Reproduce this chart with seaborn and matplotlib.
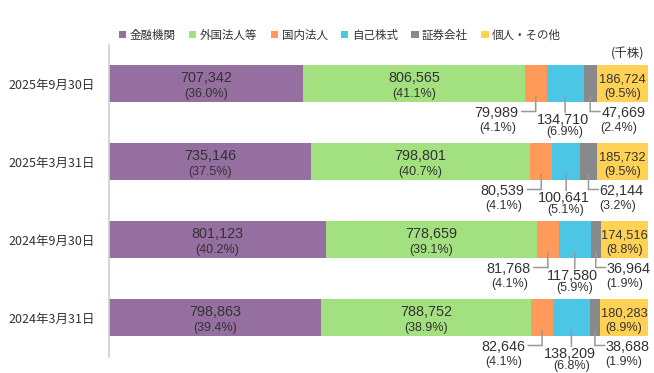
import pandas as pd
import matplotlib
matplotlib.use('Agg')
import matplotlib.pyplot as plt
from matplotlib.patches import Patch
from matplotlib.transforms import offset_copy
import seaborn as sns

# data (thousand shares)
dates = ['2025年9月30日', '2025年3月31日', '2024年9月30日', '2024年3月31日']
names = ['金融機関', '外国法人等', '国内法人', '自己株式', '証券会社', '個人・その他']
financial = [707342, 735146, 801123, 798863]
foreign = [806565, 798801, 778659, 788752]
domestic = [79989, 80539, 81768, 82646]
treasury = [134710, 100641, 117580, 138209]
securities = [47669, 62144, 36964, 38688]
individual = [186724, 185732, 174516, 180283]
colors = ['#946FA0', '#A3E080', '#FF9A5A', '#4BC6E5', '#88898B', '#FFD155']

df = pd.DataFrame({'金融機関': financial, '外国法人等': foreign, '国内法人': domestic,
                   '自己株式': treasury, '証券会社': securities, '個人・その他': individual},
                  index=dates)
shares = df.div(df.sum(axis=1), axis=0) * 100
cum = shares.cumsum(axis=1)

sns.set_style('white')
plt.rcParams['font.family'] = ['Liberation Sans', 'Noto Sans CJK JP', 'DejaVu Sans']

fig = plt.figure(figsize=(6.54, 3.73), dpi=100)
ax = fig.add_axes([109 / 654, 1 - 356.5 / 373, 539 / 654, 312 / 373])

# stacked bars: draw cumulative totals from the last series back to the first
for name, c in reversed(list(zip(names, colors))):
    sns.barplot(x=cum[name].values, y=dates, color=c, width=0.474, orient='h',
                saturation=1, linewidth=0, ax=ax)

ax.set_xlim(0, 100)
ax.set_ylim(3.5, -0.5)
ax.set_xticks([])
ax.set_xlabel('')
ax.set_ylabel('')
for s in ['top', 'right', 'bottom']:
    ax.spines[s].set_visible(False)
ax.spines['left'].set_color('#d0d0d0')
ax.spines['left'].set_linewidth(1.2)
ax.tick_params(axis='y', length=0, pad=10, labelsize=9, labelcolor='#333333')
for lab in ax.get_yticklabels():
    lab.set_family('Noto Sans CJK JP')

txt = '#333333'
lc = '#999999'


def off(dx, dy):
    # pixel offsets, dy positive = downwards
    return offset_copy(ax.transData, fig=fig, x=dx, y=-dy, units='dots')


def leader(cx, i, pts):
    # gray connector made of straight pieces between pixel offsets
    for (x0, y0), (x1, y1) in zip(pts[:-1], pts[1:]):
        ax.annotate('', xy=(cx, i), xycoords=off(x0, y0), xytext=(cx, i),
                    textcoords=off(x1, y1),
                    arrowprops=dict(arrowstyle='-', color=lc, lw=1.1,
                                    shrinkA=0, shrinkB=0))


for i, d in enumerate(dates):
    left = 0
    for j, name in enumerate(names):
        w = shares.loc[d, name]
        cx = left + w / 2
        left += w
        val = f'{df.loc[d, name]:,}'
        pct = f'({w:.1f}%)'
        if j in (0, 1, 5):
            vs = 9.3 if j == 5 else 10.4
            ax.text(cx, i, val, transform=off(0, -1.5), ha='center', va='baseline',
                    fontsize=vs, color=txt)
            ax.text(cx, i, pct, transform=off(0, 14), ha='center', va='baseline',
                    fontsize=9, color=txt)
        elif j == 2:
            leader(cx, i, [(0, 13), (0, 28), (-14, 28)])
            ax.text(cx, i, val, transform=off(-17, 33.5), ha='right', va='baseline',
                    fontsize=10.4, color=txt)
            ax.text(cx, i, pct, transform=off(-38, 47), ha='center', va='baseline',
                    fontsize=9, color=txt)
        elif j == 3:
            leader(cx, i, [(0, 13), (0, 29)])
            ax.text(cx, i, val, transform=off(-2, 41), ha='center', va='baseline',
                    fontsize=10.4, color=txt)
            ax.text(cx, i, pct, transform=off(0, 52), ha='center', va='baseline',
                    fontsize=9, color=txt)
        else:
            leader(cx, i, [(0, 13), (0, 28), (10, 28)])
            ax.text(cx, i, val, transform=off(11, 33.5), ha='left', va='baseline',
                    fontsize=10.4, color=txt)
            ax.text(cx, i, pct, transform=off(29, 47), ha='center', va='baseline',
                    fontsize=9, color=txt)

ax.text(0.994, 0.969, '(千株)', transform=ax.transAxes, ha='right', va='center',
        fontsize=9, color=txt, family='Noto Sans CJK JP')

handles = [Patch(facecolor=c, edgecolor='none', label=n) for n, c in zip(names, colors)]
leg = fig.legend(handles=handles, loc='center', bbox_to_anchor=(340 / 654, 1 - 35 / 373),
                 ncol=6, frameon=False, handlelength=0.65, handleheight=0.65,
                 handletextpad=0.3, columnspacing=1.15,
                 prop={'family': 'Noto Sans CJK JP', 'size': 8.3})
for t in leg.get_texts():
    t.set_color(txt)

fig.savefig('out.png', dpi=100)
